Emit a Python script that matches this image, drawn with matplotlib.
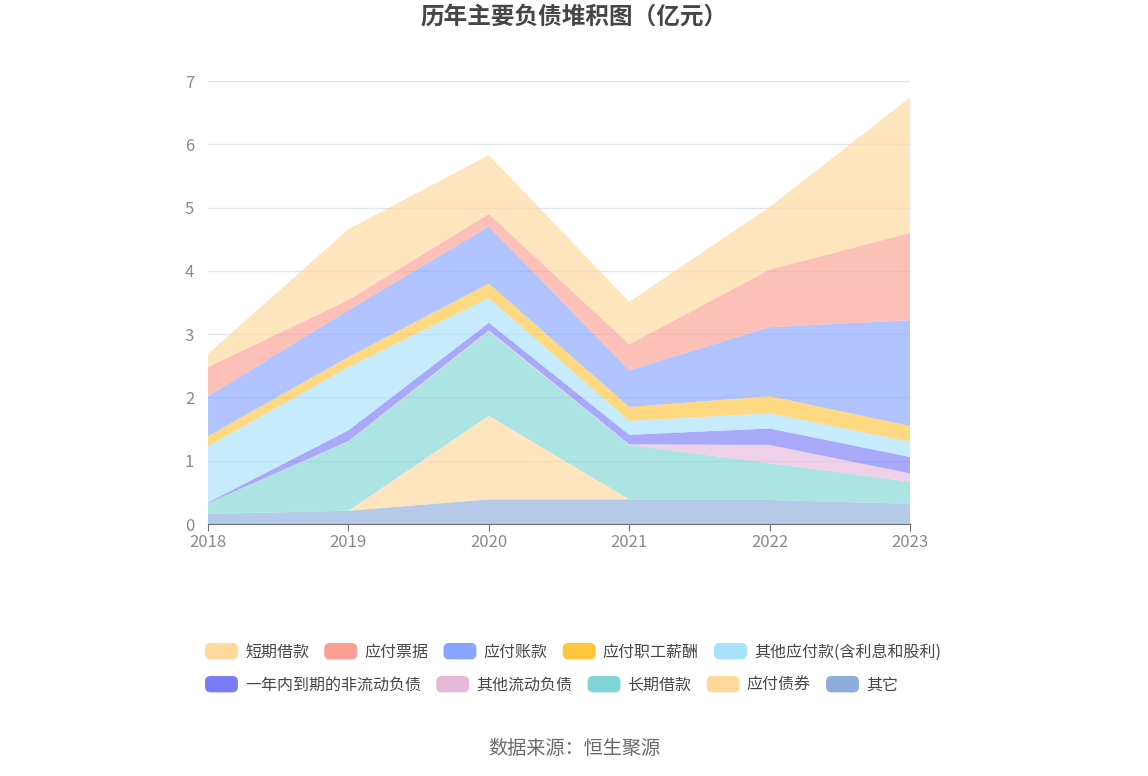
import matplotlib
matplotlib.use('Agg')
import matplotlib.pyplot as plt
from matplotlib.patches import Patch, FancyBboxPatch
from matplotlib.legend_handler import HandlerPatch

plt.rcParams['font.family'] = ['Noto Sans CJK SC', 'DejaVu Sans']

years = ['2018', '2019', '2020', '2021', '2022', '2023']

# 亿元, stacked from bottom to top
other = [0.16, 0.21, 0.39, 0.39, 0.38, 0.32]
bonds = [0.00, 0.00, 1.32, 0.00, 0.00, 0.00]
long_loan = [0.17, 1.09, 1.33, 0.86, 0.58, 0.35]
other_current = [0.00, 0.01, 0.02, 0.01, 0.29, 0.13]
due_in_year = [0.01, 0.17, 0.12, 0.15, 0.26, 0.26]
other_payable = [0.89, 1.00, 0.39, 0.22, 0.24, 0.24]
salary = [0.16, 0.16, 0.23, 0.22, 0.27, 0.25]
accounts_payable = [0.63, 0.74, 0.90, 0.58, 1.09, 1.67]
notes_payable = [0.46, 0.16, 0.20, 0.41, 0.91, 1.38]
short_loan = [0.21, 1.12, 0.93, 0.67, 0.99, 2.14]

series = [
    ('其它', other, '#8DAEDC'),
    ('应付债券', bonds, '#FFD89B'),
    ('长期借款', long_loan, '#80D6D6'),
    ('其他流动负债', other_current, '#E6B9DB'),
    ('一年内到期的非流动负债', due_in_year, '#7B7BF7'),
    ('其他应付款(含利息和股利)', other_payable, '#A8E1FB'),
    ('应付职工薪酬', salary, '#FFC53D'),
    ('应付账款', accounts_payable, '#87A5FF'),
    ('应付票据', notes_payable, '#FB9E94'),
    ('短期借款', short_loan, '#FFD89B'),
]

fig = plt.figure(figsize=(11.48, 7.76), dpi=100)
ax = fig.add_axes([0.1812, 0.3247, 0.6115, 0.5709])

x = list(range(len(years)))
ax.stackplot(x, *[s[1] for s in series], colors=[s[2] for s in series],
             alpha=0.65, linewidth=0)

ax.set_xlim(0, len(years) - 1)
ax.set_ylim(0, 7)
ax.set_yticks(range(8))
ax.set_xticks(x)
ax.set_xticklabels(years)
ax.grid(axis='y', color='#E0E6F1', linewidth=1)
ax.set_axisbelow(True)
for sp in ['top', 'right', 'left']:
    ax.spines[sp].set_visible(False)
ax.spines['bottom'].set_color('#6E7079')
ax.tick_params(axis='y', length=0, pad=10, labelsize=12, labelcolor='#8a8a8a')
ax.tick_params(axis='x', length=5, color='#6E7079', pad=2, labelsize=12, labelcolor='#8a8a8a')

fig.text(0.5, 0.977, '历年主要负债堆积图（亿元）', ha='center', va='center',
         fontsize=17, fontweight='bold', color='#464646')
fig.text(0.5, 0.036, '数据来源：恒生聚源', ha='center', va='center',
         fontsize=13.8, color='#6a6a6a')


class RoundHandler(HandlerPatch):
    def create_artists(self, legend, orig_handle, xdescent, ydescent,
                       width, height, fontsize, trans):
        p = FancyBboxPatch((-xdescent, -ydescent), width, height,
                           boxstyle='round,pad=0,rounding_size=4',
                           facecolor=orig_handle.get_facecolor(),
                           edgecolor='none', transform=trans)
        return [p]


legend_colors = {
    '短期借款': '#FFD89B', '应付票据': '#FB9E94', '应付账款': '#87A5FF',
    '应付职工薪酬': '#FFC53D', '其他应付款(含利息和股利)': '#A8E1FB',
    '一年内到期的非流动负债': '#7B7BF7', '其他流动负债': '#E6B9DB',
    '长期借款': '#80D6D6', '应付债券': '#FFD89B', '其它': '#8DAEDC',
}
row1 = ['短期借款', '应付票据', '应付账款', '应付职工薪酬', '其他应付款(含利息和股利)']
row2 = ['一年内到期的非流动负债', '其他流动负债', '长期借款', '应付债券', '其它']

for row, ytop in [(row1, 1 - 643 / 776), (row2, 1 - 676 / 776)]:
    handles = [Patch(facecolor=legend_colors[n], label=n) for n in row]
    leg = fig.legend(handles=handles, loc='upper left', bbox_to_anchor=(205 / 1148, ytop),
                     ncol=len(row), frameon=False, fontsize=11.5,
                     handlelength=2.06, handleheight=1.2, handletextpad=0.45,
                     columnspacing=0.95, borderpad=0, borderaxespad=0,
                     handler_map={Patch: RoundHandler()})
    for t in leg.get_texts():
        t.set_color('#464646')

fig.savefig('out.png', dpi=100)
